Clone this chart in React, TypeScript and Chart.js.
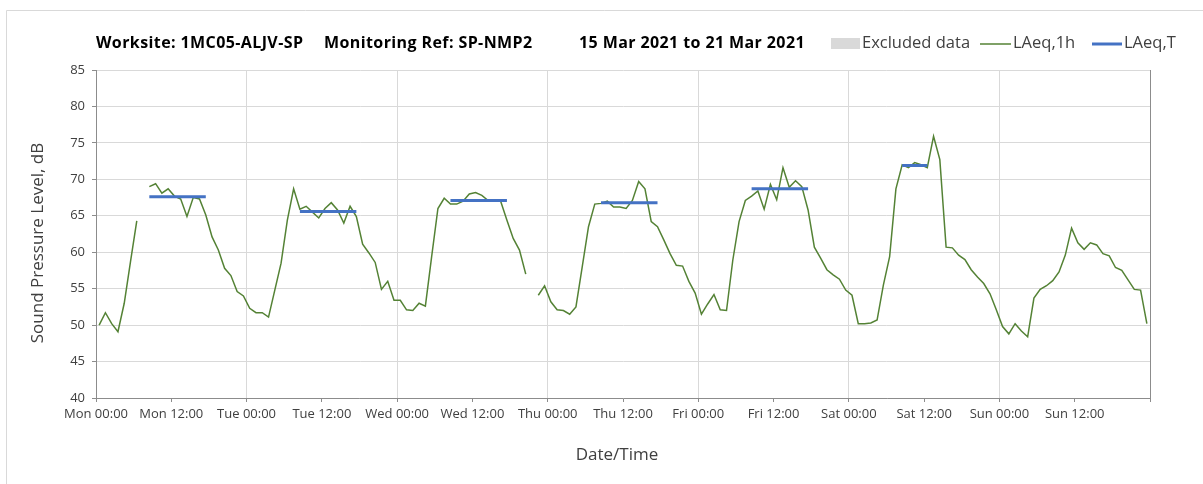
import React, { useEffect, useRef } from "react";
import { Chart, registerables } from "chart.js";

Chart.register(...registerables);

// Hourly LAeq,1h values (dB), one array per day, null = no data
const MON = [50.0, 51.7, 50.2, 49.1, 53.0, 58.7, 64.3, null, 69.0, 69.4, 68.1, 68.7, 67.7, 67.3, 64.9, 67.5, 67.3, 65.1, 62.1, 60.3, 57.8, 56.8, 54.6, 54.0];
const TUE = [52.3, 51.7, 51.7, 51.1, 54.8, 58.5, 64.4, 68.7, 65.9, 66.3, 65.5, 64.7, 66.0, 66.8, 65.8, 64.0, 66.3, 64.9, 61.1, 59.9, 58.6, 54.9, 56.0, 53.4];
const WED = [53.4, 52.1, 52.0, 53.0, 52.6, 59.4, 66.0, 67.4, 66.6, 66.6, 67.0, 68.0, 68.2, 67.8, 67.1, 67.1, 67.0, 64.4, 61.9, 60.3, 57.0, null, 54.1, 55.4];
const THU = [53.2, 52.1, 52.0, 51.5, 52.5, 58.0, 63.5, 66.6, 66.7, 67.0, 66.2, 66.2, 66.0, 67.1, 69.7, 68.7, 64.2, 63.5, 61.7, 59.8, 58.2, 58.1, 56.0, 54.4];
const FRI = [51.5, 52.9, 54.2, 52.1, 52.0, 58.9, 64.2, 67.1, 67.7, 68.4, 65.9, 69.3, 67.2, 71.6, 68.9, 69.8, 69.0, 65.8, 60.7, 59.2, 57.6, 56.9, 56.3, 54.8];
const SAT = [54.1, 50.2, 50.2, 50.3, 50.7, 55.5, 59.4, 68.7, 72.0, 71.6, 72.3, 72.0, 71.6, 75.9, 72.7, 60.7, 60.6, 59.6, 59.0, 57.6, 56.6, 55.7, 54.3, 52.1];
const SUN = [49.8, 48.8, 50.2, 49.2, 48.4, 53.7, 54.9, 55.4, 56.1, 57.3, 59.6, 63.3, 61.3, 60.4, 61.3, 61.0, 59.8, 59.5, 57.9, 57.5, 56.2, 54.9, 54.8, 50.2];

// LAeq,T periods (hour index from Mon 00:00) and levels
const PERIOD_START = [8, 32, 56, 80, 104, 128];
const PERIOD_END = [17, 41, 65, 89, 113, 132];
const LAEQ_T = [67.6, 65.6, 67.1, 66.8, 68.7, 71.9];

const TICK_LABELS = [
  "Mon 00:00", "Mon 12:00", "Tue 00:00", "Tue 12:00", "Wed 00:00", "Wed 12:00",
  "Thu 00:00", "Thu 12:00", "Fri 00:00", "Fri 12:00", "Sat 00:00", "Sat 12:00",
  "Sun 00:00", "Sun 12:00", "",
];

const TITLE_PARTS = ["Worksite: 1MC05-ALJV-SP", "Monitoring Ref: SP-NMP2", "15 Mar 2021 to 21 Mar 2021"];
const LEGEND_LABELS = ["Excluded data", "LAeq,1h", "LAeq,T"];

const GREEN = "#548235";
const BLUE = "#4472C4";
const GRID = "#D9D9D9";
const AXIS = "#8C8C8C";
const TEXT = "#404040";
const FONT = "'Open Sans', 'Noto Sans', sans-serif";

const HOURLY = [...MON, ...TUE, ...WED, ...THU, ...FRI, ...SAT, ...SUN];

const decorPlugin = {
  id: "decor",
  beforeDraw(chart: any) {
    const ctx = chart.ctx;
    ctx.save();
    ctx.fillStyle = "#ffffff";
    ctx.fillRect(0, 0, chart.width, chart.height);
    ctx.strokeStyle = GRID;
    ctx.lineWidth = 1;
    ctx.beginPath();
    ctx.moveTo(6.5, chart.height);
    ctx.lineTo(6.5, 10.5);
    ctx.lineTo(chart.width, 10.5);
    ctx.stroke();
    ctx.restore();
  },
  afterDraw(chart: any) {
    const ctx = chart.ctx;
    const area = chart.chartArea;
    ctx.save();
    // right border of plot
    ctx.strokeStyle = AXIS;
    ctx.lineWidth = 1;
    ctx.beginPath();
    ctx.moveTo(Math.round(area.right) + 0.5, area.top);
    ctx.lineTo(Math.round(area.right) + 0.5, area.bottom + 4);
    ctx.stroke();

    // title
    ctx.fillStyle = "#000000";
    ctx.textBaseline = "middle";
    ctx.textAlign = "left";
    ctx.font = "bold 16px " + FONT;
    (ctx as any).letterSpacing = "0.4px";
    const titleX = [96, 324, 579];
    TITLE_PARTS.forEach((t, i) => ctx.fillText(t, titleX[i], 43));
    (ctx as any).letterSpacing = "0px";

    // legend
    ctx.font = "16.5px " + FONT;
    ctx.fillStyle = "#D9D9D9";
    ctx.fillRect(831, 38, 29, 11);
    ctx.fillStyle = TEXT;
    ctx.fillText(LEGEND_LABELS[0], 862, 43);
    ctx.strokeStyle = GREEN;
    ctx.lineWidth = 1.5;
    ctx.beginPath();
    ctx.moveTo(980, 44);
    ctx.lineTo(1011, 44);
    ctx.stroke();
    ctx.fillText(LEGEND_LABELS[1], 1013, 43);
    ctx.strokeStyle = BLUE;
    ctx.lineWidth = 3;
    ctx.beginPath();
    ctx.moveTo(1092, 44);
    ctx.lineTo(1122, 44);
    ctx.stroke();
    ctx.fillText(LEGEND_LABELS[2], 1124, 43);

    // axis titles
    ctx.font = "17px " + FONT;
    ctx.fillStyle = TEXT;
    ctx.textAlign = "center";
    ctx.fillText("Date/Time", 617, 455);
    ctx.translate(38, (area.top + area.bottom) / 2 + 9);
    ctx.rotate(-Math.PI / 2);
    ctx.fillText("Sound Pressure Level, dB", 0, 0);
    ctx.restore();
  },
};

export default function App() {
  const canvasRef = useRef<HTMLCanvasElement | null>(null);

  useEffect(() => {
    const canvas = canvasRef.current;
    if (!canvas) return;

    const hourlyData = HOURLY.map((v, i) => ({ x: i + 0.5, y: v }));
    const periodData: { x: number; y: number | null }[] = [];
    LAEQ_T.forEach((v, k) => {
      periodData.push({ x: PERIOD_START[k] + 0.5, y: v });
      periodData.push({ x: PERIOD_END[k] + 0.5, y: v });
      periodData.push({ x: PERIOD_END[k] + 1, y: null });
    });

    const chart = new Chart(canvas, {
      type: "line",
      data: {
        datasets: [
          {
            label: "LAeq,T",
            data: periodData as any,
            borderColor: BLUE,
            borderWidth: 3,
            pointRadius: 0,
            spanGaps: false,
            tension: 0,
          },
          {
            label: "LAeq,1h",
            data: hourlyData as any,
            borderColor: GREEN,
            borderWidth: 1.5,
            pointRadius: 0,
            spanGaps: false,
            tension: 0,
          },
        ],
      },
      options: {
        animation: false,
        responsive: false,
        maintainAspectRatio: false,
        layout: { padding: { top: 70, right: 53, left: 0, bottom: 0 } },
        plugins: {
          legend: { display: false },
          title: { display: false },
          tooltip: { enabled: false },
        },
        scales: {
          x: {
            type: "linear",
            min: 0,
            max: 168,
            afterFit: (s: any) => {
              s.height = 86;
            },
            afterBuildTicks: (s: any) => {
              s.ticks = TICK_LABELS.map((_, i) => ({ value: i * 12 }));
            },
            ticks: {
              autoSkip: false,
              maxRotation: 0,
              minRotation: 0,
              padding: 4,
              color: TEXT,
              font: { family: FONT, size: 13 },
              callback: (_v: any, i: number) => TICK_LABELS[i],
            },
            grid: {
              color: (c: any) => (c.tick && c.tick.value % 24 === 0 ? GRID : "rgba(0,0,0,0)"),
              tickColor: AXIS,
              tickLength: 4,
              lineWidth: 1,
            },
            border: { color: AXIS, width: 1 },
          },
          y: {
            min: 40,
            max: 85,
            afterFit: (s: any) => {
              s.width = 96;
            },
            ticks: {
              stepSize: 5,
              padding: 7,
              color: TEXT,
              font: { family: FONT, size: 13 },
            },
            grid: {
              color: GRID,
              tickColor: AXIS,
              tickLength: 4,
              lineWidth: 1,
            },
            border: { color: AXIS, width: 1 },
          },
        },
      },
      plugins: [decorPlugin],
    });

    return () => chart.destroy();
  }, []);

  return (
    <div style={{ position: "absolute", left: 0, top: 0, width: 1203, height: 484, background: "#fff" }}>
      <canvas ref={canvasRef} width={1203} height={484} style={{ display: "block", width: 1203, height: 484 }} />
    </div>
  );
}
